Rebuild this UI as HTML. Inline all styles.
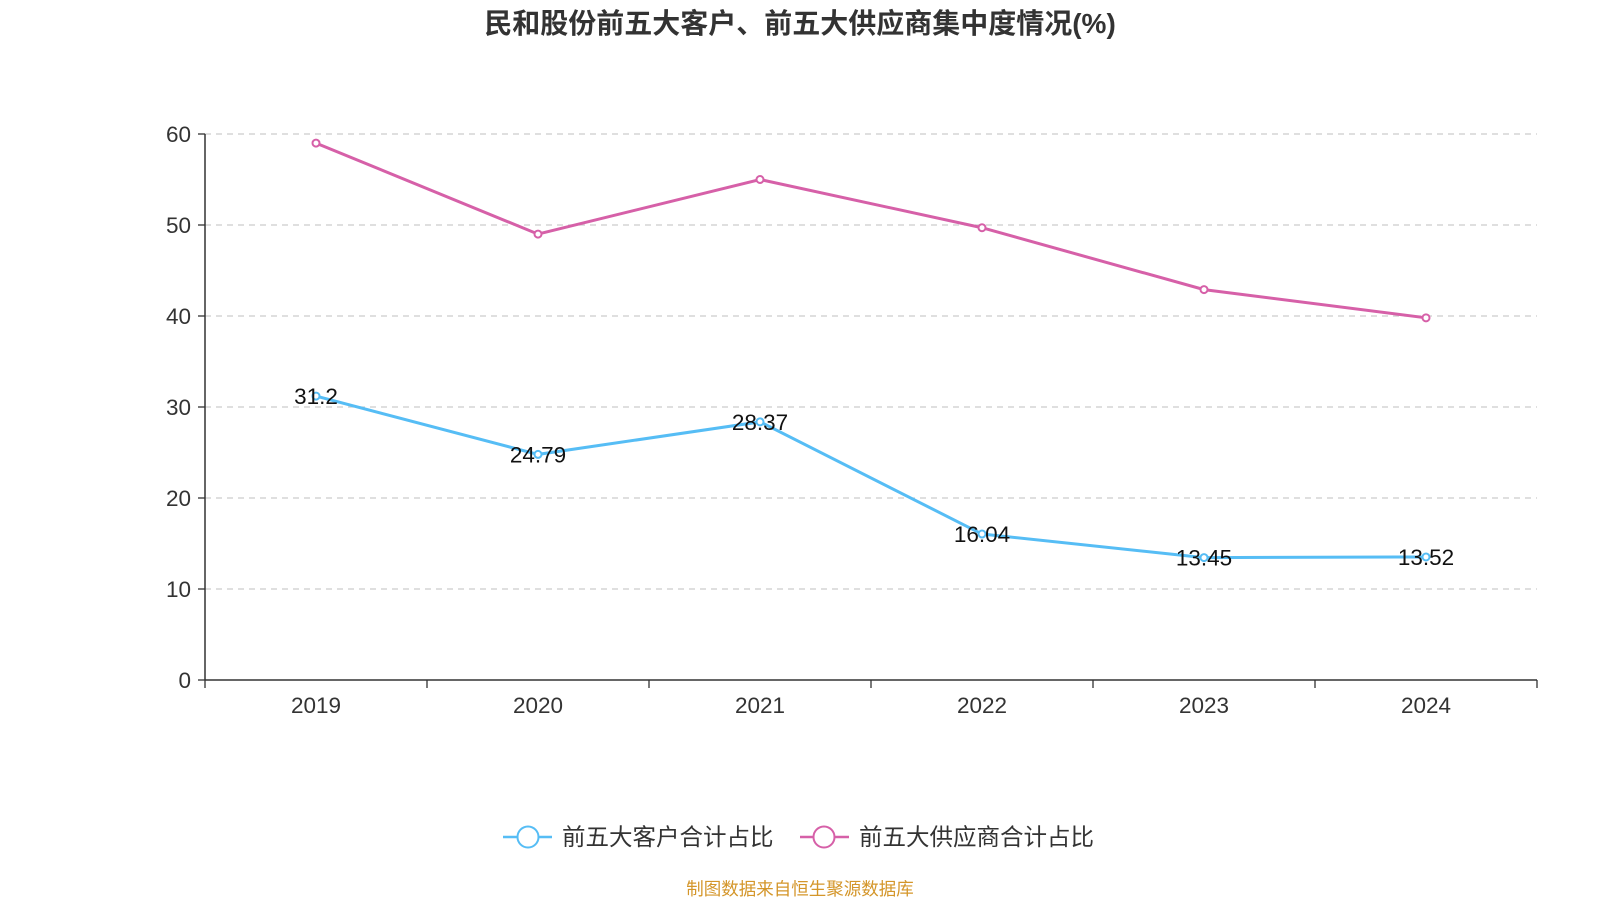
<!DOCTYPE html>
<html><head><meta charset="utf-8">
<style>
html,body{margin:0;padding:0;background:#fff;width:1600px;height:900px;overflow:hidden;font-family:"Liberation Sans","Noto Sans CJK SC",sans-serif;}
svg text{font-family:"Liberation Sans","Noto Sans CJK SC",sans-serif;}
</style></head>
<body>
<svg id="chart" width="1600" height="900">
<text x="800" y="33" text-anchor="middle" font-size="28" font-weight="bold" fill="#333">民和股份前五大客户、前五大供应商集中度情况(%)</text>
<g id="grid"></g>
<g id="axes"></g>
<g id="series"></g>
<g>
<g>
<line x1="503" y1="837" x2="552" y2="837" stroke="#56bdf5" stroke-width="2.5"/>
<circle cx="528" cy="837" r="10.5" fill="#fff" stroke="#56bdf5" stroke-width="2"/>
<text x="562" y="845" font-size="23.5" fill="#333">前五大客户合计占比</text></g>
<g>
<line x1="800" y1="837" x2="849" y2="837" stroke="#d660a8" stroke-width="2.5"/>
<circle cx="824" cy="837" r="10.5" fill="#fff" stroke="#d660a8" stroke-width="2"/>
<text x="859" y="845" font-size="23.5" fill="#333">前五大供应商合计占比</text></g>
</g>
<text x="800" y="895" text-anchor="middle" font-size="17.5" fill="#d4962a">制图数据来自恒生聚源数据库</text>
</svg>
<script>
const categories=['2019','2020','2021','2022','2023','2024'];
const customerValues=[31.2,24.79,28.37,16.04,13.45,13.52];
const supplierValues=[59.0,49.0,55.0,49.7,42.9,39.8];
const yTicks=[0,10,20,30,40,50,60];
const NS='http://www.w3.org/2000/svg';
const L=205,R=1537,T=134,B=680,yMax=60;
const band=(R-L)/categories.length;
const xs=i=>L+band*(i+0.5);
const ys=v=>B-(v/yMax)*(B-T);
function mk(tag,attrs,parent,txt){const e=document.createElementNS(NS,tag);for(const k in attrs)e.setAttribute(k,attrs[k]);if(txt!==undefined)e.textContent=txt;parent.appendChild(e);return e;}
const grid=document.getElementById('grid'),axes=document.getElementById('axes'),ser=document.getElementById('series');
yTicks.forEach(t=>{
  const y=ys(t);
  if(t>0){const g=mk('line',{x1:L,x2:R,y1:y,y2:y,stroke:'#ccc','stroke-width':1.3,'stroke-dasharray':'6,5'},grid);
  
  }
  mk('line',{x1:L-7,x2:L,y1:y,y2:y,stroke:'#333','stroke-width':1.3},axes);
  const lb=mk('text',{x:L-14,y:y+8,'text-anchor':'end','font-size':22.5,fill:'#333'},axes,String(t));
  
  
});
mk('line',{x1:L,x2:L,y1:T,y2:B,stroke:'#333','stroke-width':1.5},axes);
mk('line',{x1:L,x2:R,y1:B,y2:B,stroke:'#333','stroke-width':1.5},axes);
for(let i=0;i<=categories.length;i++){const x=L+band*i;mk('line',{x1:x,x2:x,y1:B,y2:B+8,stroke:'#333','stroke-width':1.3},axes);}
categories.forEach((c,i)=>{
  const t=mk('text',{x:xs(i),y:B+33,'text-anchor':'middle','font-size':22.5,fill:'#333'},axes,c);
  
  
});
function drawSeries(vals,color,name,labels){
  const p=mk('polyline',{points:vals.map((v,i)=>xs(i)+','+ys(v)).join(' '),fill:'none',stroke:color,'stroke-width':3},ser);
  
  
  vals.forEach((v,i)=>{
    const c=mk('circle',{cx:xs(i),cy:ys(v),r:3.5,fill:'#fff',stroke:color,'stroke-width':2},ser);
    
    
    if(labels){const t=mk('text',{x:xs(i),y:ys(v)+8,'text-anchor':'middle','font-size':22.5,fill:'#111'},ser,String(v));
    
    }
  });
}
drawSeries(supplierValues,'#d660a8','supplier',false);
drawSeries(customerValues,'#56bdf5','customer',true);
</script>
</body></html>
